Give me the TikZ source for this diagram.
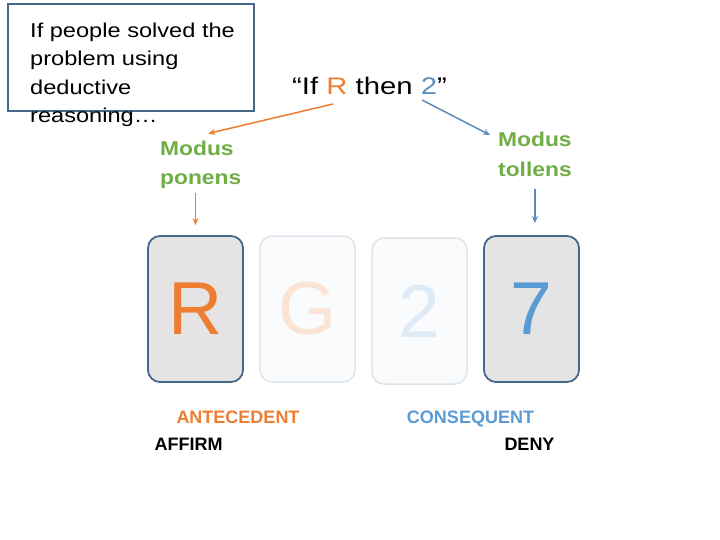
\documentclass[tikz,border=0pt]{standalone}
\usepackage{fontspec}
\setmainfont{Liberation Sans}
\newfontfamily\boxfont[FakeStretch=1.18]{Liberation Sans}
\newfontfamily\quotefont[FakeStretch=1.22]{Liberation Sans}
\newfontfamily\modusfont[FakeStretch=1.14]{Liberation Sans}
\usetikzlibrary{arrows.meta,calc}
\definecolor{AnteClr}{RGB}{237,125,49}
\definecolor{ConsClr}{RGB}{91,155,213}
\definecolor{LinkClr}{RGB}{90,140,190}
\definecolor{ModusClr}{RGB}{112,173,71}
\definecolor{FrameClr}{RGB}{70,104,140}
\definecolor{CardClr}{RGB}{228,228,228}
\definecolor{FadeClr}{RGB}{250,251,252}
\definecolor{FadeLine}{RGB}{222,228,235}
\definecolor{FadeAnte}{RGB}{251,228,213}
\definecolor{FadeCons}{RGB}{222,234,246}

\begin{document}
\begin{tikzpicture}[x=1pt,y=-1pt,
  card/.style={draw=FrameClr,line width=1.8pt,fill=CardClr,rounded corners=12pt,
    minimum width=95pt,minimum height=146pt,inner sep=0pt,font=\fontsize{75}{75}\selectfont},
  fadecard/.style={card,draw=FadeLine,fill=FadeClr,line width=1.5pt},
  modus/.style={text=ModusClr,font=\modusfont\bfseries\fontsize{20}{29.5}\selectfont,
    align=left,inner sep=0pt},
  tag/.style={font=\bfseries\fontsize{18}{18}\selectfont,inner sep=0pt},
  link/.style={line width=1.5pt,-{Stealth[length=7pt,width=6pt]}}]
\useasboundingbox (0,0) rectangle (720,540);

\node[draw=FrameClr,line width=2pt,minimum width=246pt,minimum height=107pt,inner sep=0pt] (frame) at (131,57.5) {};
\node[anchor=north west,align=left,inner sep=0pt,font=\boxfont\fontsize{20}{28.5}\selectfont] (question) at (30,22.5)
  {If people solved the\\problem using\\deductive\\reasoning…};

\node[anchor=base west,inner sep=0pt,font=\quotefont\fontsize{24}{28}\selectfont] (rule) at (292,95)
  {“If \textcolor{AnteClr}{R} then \textcolor{LinkClr}{2}”};
\coordinate (ruleR) at (333,104);
\coordinate (rule2) at (422,100);

\node[modus,anchor=north west] (ponens) at (160,140.5) {Modus\\ponens};
\node[modus,anchor=north west] (tollens) at (498,132) {Modus\\tollens};

\node[card,text=AnteClr] (cardR) at (195.5,309) {R};
\node[fadecard,text=FadeAnte] (cardG) at (307.5,309) {G};
\node[fadecard,text=FadeCons] (card2) at (419.5,311) {2};
\node[card,text=ConsClr] (card7) at (531.5,309) {7};

\node[tag,text=AnteClr,anchor=base] (ante) at (238,423) {ANTECEDENT};
\node[tag,text=ConsClr,anchor=base] (cons) at (470.5,423) {CONSEQUENT};
\node[tag,anchor=base] (affirm) at (188.5,450) {AFFIRM};
\node[tag,anchor=base] (deny) at (529.5,450) {DENY};

\draw[link,AnteClr] (ruleR) -- ([shift={(7.5pt,7pt)}]ponens.north);
\draw[link,LinkClr] (rule2) -- ([shift={(-8pt,-3pt)}]tollens.north west);
\draw[link,AnteClr,shorten <=4pt,shorten >=10pt] (ponens.south -| cardR.north) -- (cardR.north);
\draw[link,LinkClr,shorten <=12pt,shorten >=12pt] (tollens.south) -- (tollens.south |- card7.north);
\end{tikzpicture}
\end{document}
